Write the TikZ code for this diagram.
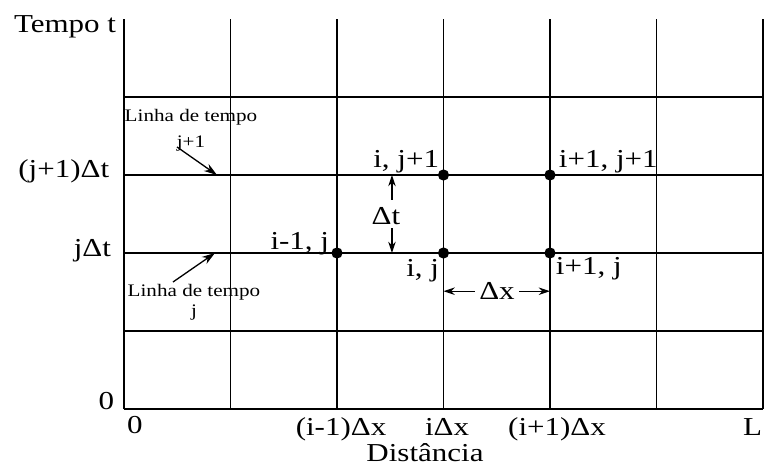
\documentclass[tikz,border=0pt]{standalone}
\usepackage{fontspec}
\setmainfont{Liberation Serif}[FakeStretch=1.2]
\usepackage{tikz}
\usetikzlibrary{positioning, arrows.meta, calc}

\begin{document}
\begin{tikzpicture}[x=2cm, y=1.4648cm, line width=1pt,
    font=\fontsize{13.8}{16}\selectfont,
    ponto/.style={circle, fill, inner sep=0pt, minimum size=6pt},
    rotulo/.style={inner sep=0pt},
    pequeno/.style={inner sep=0pt, align=center, font=\fontsize{9.4}{11}\selectfont},
    seta/.style={-{Stealth[length=6pt, width=4pt]}, line width=0.7pt}]
    \useasboundingbox (-1.1643,-0.7179) rectangle (6.0188,5.2436);
    % grade
    \foreach \i in {0,...,6}
      \draw (\i,0) -- (\i,5);
    \foreach \j in {0,...,4}
      \draw (0,\j) -- (6,\j);
    % eixo do tempo
    \node[rotulo, anchor=base east] (tempo) at (-0.066,4.833) {Tempo t};
    \node[rotulo, anchor=base east] (tj1) at (-0.131,2.962) {(j+1)Δt};
    \node[rotulo, anchor=base east] (tj) at (-0.113,1.949) {jΔt};
    \node[rotulo, anchor=base east] (t0) at (-0.085,0) {0};
    % eixo da distancia
    \node[rotulo, anchor=base] (x0) at (0.103,-0.31) {0};
    \node[rotulo, anchor=base] (xim1) at (2.038,-0.345) {(i-1)Δx};
    \node[rotulo, anchor=base] (xi) at (3.033,-0.345) {iΔx};
    \node[rotulo, anchor=base] (xip1) at (4.066,-0.345) {(i+1)Δx};
    \node[rotulo, anchor=base east] (xl) at (6.0,-0.345) {L};
    \node[rotulo, anchor=base] (dist) at (2.826,-0.675) {Distância};
    % pontos da malha
    \node[ponto] (im1j) at (2,2) {};
    \node[ponto] (ij) at (3,2) {};
    \node[ponto] (ip1j) at (4,2) {};
    \node[ponto] (ijp1) at (3,3) {};
    \node[ponto] (ip1jp1) at (4,3) {};
    \node[rotulo, anchor=base east] (lijp1) at (2.967,3.09) {i, j+1};
    \node[rotulo, anchor=base west] (lip1jp1) at (4.075,3.10) {i+1, j+1};
    \node[rotulo, anchor=base east] (lim1j) at (1.934,2.05) {i-1, j};
    \node[rotulo, anchor=base east] (lij) at (2.967,1.705) {i, j};
    \node[rotulo, anchor=base west] (lip1j) at (4.047,1.718) {i+1, j};
    % delta t
    \node[rotulo] (dt) at (2.46,2.47) {Δt};
    \coordinate (dta) at (2.516,2.68);
    \coordinate (dtb) at (2.516,2.32);
    \draw[seta] (dta) -- (dta |- ijp1);
    \draw[seta] (dtb) -- (dtb |- ij);
    % delta x
    \node[rotulo, inner xsep=2pt] (dx) at (3.502,1.51) {Δx};
    \draw[seta] (dx.west) -- (dx.west -| ij);
    \draw[seta] (dx.east) -- (dx.east -| ip1j);
    % linhas de tempo
    \node[pequeno, anchor=north] (lt1) at (0.629,3.859) {Linha de tempo\\[3pt]j+1};
    \node[pequeno, anchor=north] (lt0) at (0.657,1.615) {Linha de tempo\\j};
    \coordinate (s1a) at (0.498,3.359);
    \coordinate (s1b) at (0.873,3.0);
    \coordinate (s0a) at (0.46,1.628);
    \coordinate (s0b) at (0.854,2.0);
    \draw[seta, -{Stealth[length=7pt, width=4.5pt]}] (s1a) -- (s1b);
    \draw[seta, -{Stealth[length=7pt, width=4.5pt]}] (s0a) -- (s0b);
\end{tikzpicture}
\end{document}
